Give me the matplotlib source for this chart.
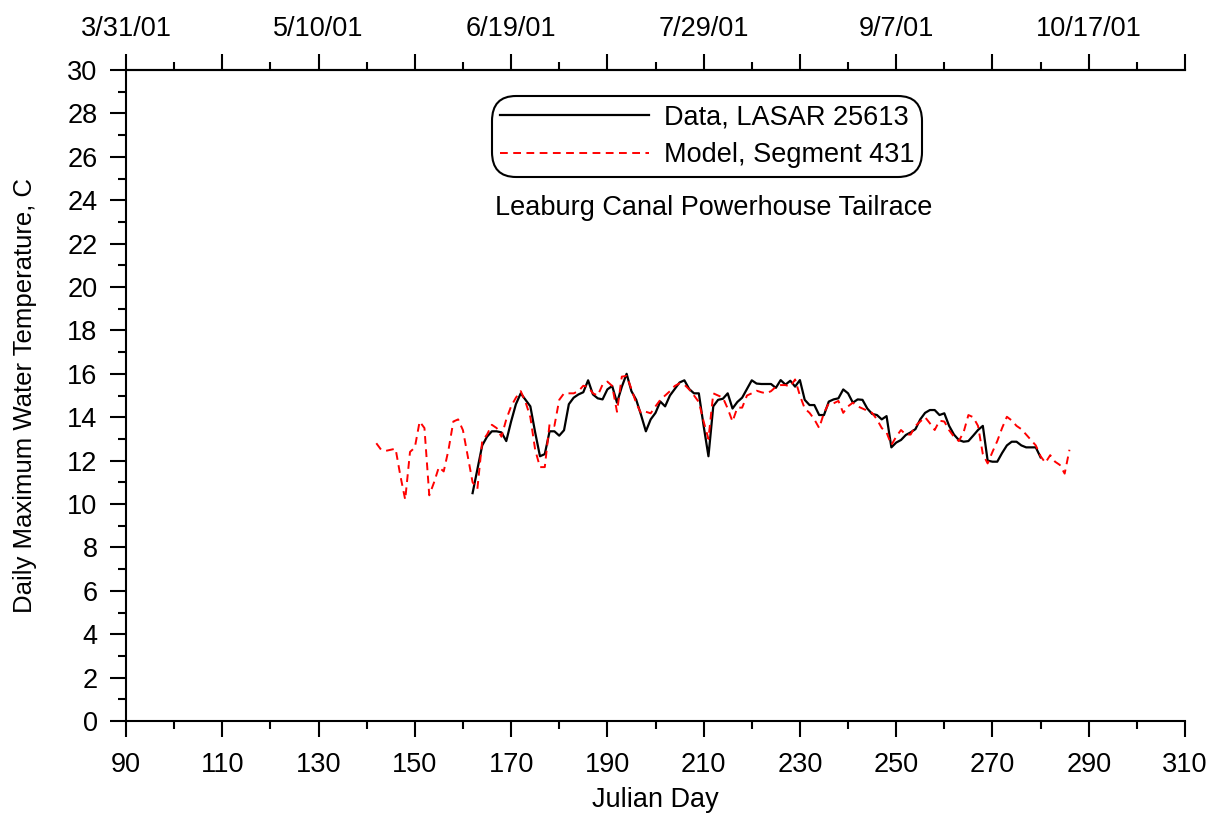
import matplotlib
matplotlib.use("Agg")
import matplotlib.pyplot as plt
import numpy as np

plt.rcParams['font.family'] = ['Liberation Sans', 'DejaVu Sans']

# ---- data ----
data_start = 162
data_temp = [10.5, 11.6, 12.7, 13.1, 13.35, 13.35, 13.3, 12.9, 13.8, 14.6,
             15.1, 14.8, 14.5, 13.3, 12.2, 12.3, 13.35, 13.35, 13.15, 13.4,
             14.6, 14.9, 15.05, 15.15, 15.7, 15.05, 14.87, 14.82, 15.28, 15.44,
             14.67, 15.4, 16.0, 15.2, 14.8, 14.1, 13.35, 13.9, 14.2, 14.72,
             14.5, 15.0, 15.3, 15.6, 15.7, 15.3, 15.1, 15.1, 13.6, 12.2,
             14.5, 14.8, 14.85, 15.1, 14.4, 14.7, 14.9, 15.3, 15.7, 15.55,
             15.53, 15.53, 15.53, 15.35, 15.71, 15.5, 15.68, 15.41, 15.71, 14.8,
             14.56, 14.56, 14.1, 14.1, 14.72, 14.82, 14.87, 15.28, 15.1, 14.67,
             14.82, 14.8, 14.4, 14.15, 14.1, 13.9, 14.05, 12.61, 12.83, 12.95,
             13.18, 13.3, 13.45, 13.9, 14.2, 14.33, 14.33, 14.1, 14.18, 13.6,
             13.2, 12.95, 12.87, 12.9, 13.15, 13.41, 13.6, 12.0, 11.95, 11.95,
             12.35, 12.7, 12.87, 12.87, 12.7, 12.61, 12.61, 12.61, 12.15]
data_days = np.arange(data_start, data_start + len(data_temp))

model_start = 142
model_temp = [12.8, 12.5, 12.45, 12.5, 12.55, 11.3, 10.2, 12.4, 12.6, 13.8,
              13.5, 10.4, 11.0, 11.7, 11.5, 12.5, 13.8, 13.9, 13.4, 12.2,
              11.0, 10.7, 12.9, 13.2, 13.65, 13.5, 13.1, 13.9, 14.5, 14.9,
              15.2, 14.7, 14.0, 12.5, 11.7, 11.7, 13.7, 13.6, 14.8, 15.1,
              15.1, 15.1, 15.2, 15.45, 15.4, 15.1, 15.0, 15.5, 15.64, 15.44,
              14.25, 15.87, 15.9, 15.3, 14.64, 14.18, 14.25, 14.18, 14.5, 14.8,
              15.0, 15.2, 15.44, 15.56, 15.5, 15.28, 15.0, 14.7, 13.8, 13.0,
              15.1, 15.0, 14.9, 14.4, 13.8, 14.44, 14.44, 15.0, 15.1, 15.22,
              15.15, 15.1, 15.2, 15.4, 15.48, 15.48, 15.41, 15.74, 15.0, 14.4,
              14.2, 13.9, 13.5, 14.2, 14.64, 14.64, 14.75, 14.2, 14.5, 14.67,
              14.5, 14.4, 14.3, 14.2, 13.9, 13.5, 13.3, 12.72, 13.1, 13.41,
              13.2, 13.2, 13.6, 13.8, 14.0, 13.72, 13.41, 13.84, 13.8, 13.4,
              13.1, 12.9, 13.3, 14.1, 14.0, 13.6, 12.3, 11.87, 12.4, 12.9,
              13.5, 14.02, 13.85, 13.6, 13.45, 13.2, 12.95, 12.7, 12.2, 11.9,
              12.25, 11.95, 11.8, 11.4, 12.5]
model_days = np.arange(model_start, model_start + len(model_temp))

x_ticks = [90, 110, 130, 150, 170, 190, 210, 230, 250, 270, 290, 310]
top_label_days = [90, 130, 170, 210, 250, 290]
top_labels = ["3/31/01", "5/10/01", "6/19/01", "7/29/01", "9/7/01", "10/17/01"]
y_ticks = list(range(0, 31, 2))

FS = 19.5
FS_Y = 18.5

fig = plt.figure(figsize=(12.1, 8.15), dpi=100)
ax = fig.add_axes([126/1210, 1 - 721/815, (1185-126)/1210, (721-70)/815])

ax.plot(data_days, data_temp, color='black', lw=1.6, label='Data, LASAR 25613')
ax.plot(model_days, model_temp, color='red', lw=1.4, linestyle=(0, (4.0, 2.8)),
        label='Model, Segment 431')

ax.set_xlim(90, 310)
ax.set_ylim(0, 30)
ax.set_xticks(x_ticks)
ax.set_xticks(np.arange(100, 310, 20), minor=True)
ax.set_yticks(y_ticks)
ax.set_yticks(np.arange(1, 30, 2), minor=True)

for s in ['left', 'bottom', 'top']:
    ax.spines[s].set_linewidth(1.5)
ax.spines['right'].set_visible(False)

ax.tick_params(axis='both', which='major', direction='out', length=11.5, width=1.5,
               labelsize=FS, pad=9)
ax.tick_params(axis='both', which='minor', direction='out', length=6, width=1.5)
ax.tick_params(axis='x', which='major', pad=11)

ax2 = ax.twiny()
ax2.set_xlim(90, 310)
ax2.set_xticks(x_ticks)
ax2.set_xticklabels([top_labels[top_label_days.index(d)] if d in top_label_days else ''
                     for d in x_ticks])
ax2.set_xticks(np.arange(100, 310, 20), minor=True)
for s in ['left', 'bottom', 'right']:
    ax2.spines[s].set_visible(False)
ax2.spines['top'].set_linewidth(1.5)
ax2.tick_params(axis='x', which='major', direction='out', length=11.5, width=1.5,
                labelsize=FS, pad=9)
ax2.tick_params(axis='x', which='minor', direction='out', length=6, width=1.5)

ax.set_xlabel('Julian Day', fontsize=FS, labelpad=6)
ax.set_ylabel('Daily Maximum Water Temperature, C', fontsize=FS_Y, labelpad=22)

leg = ax.legend(loc='center', bbox_to_anchor=(0.5487, 0.898), fontsize=FS,
                handlelength=5.5, handletextpad=0.55, labelspacing=0.45,
                borderpad=0.15, frameon=True, fancybox=True, framealpha=1)
frame = leg.get_frame()
frame.set_edgecolor('black')
frame.set_linewidth(1.5)
frame.set_boxstyle('round,pad=0.15,rounding_size=0.9')

ax.text(0.5552, (721-208)/651, 'Leaburg Canal Powerhouse Tailrace', transform=ax.transAxes,
        ha='center', va='center', fontsize=FS)

fig.savefig('out.png', dpi=100)
